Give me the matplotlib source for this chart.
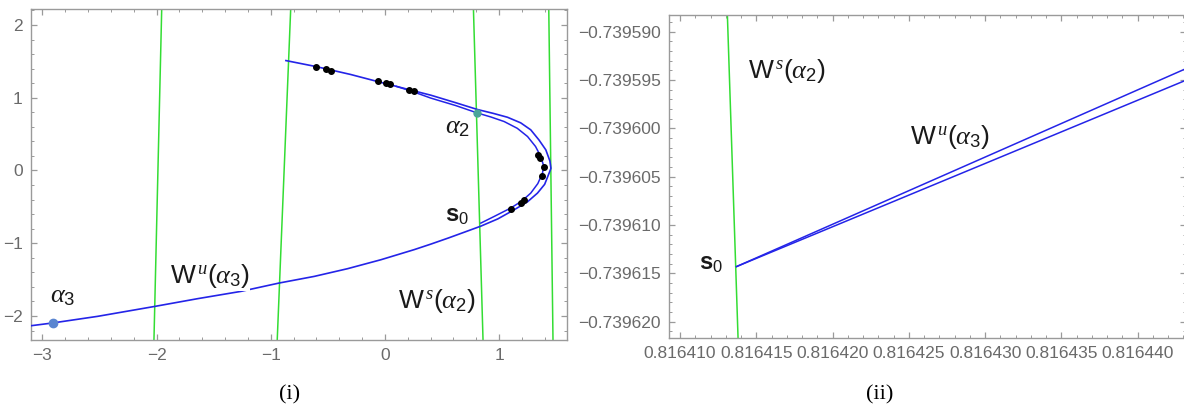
import matplotlib
matplotlib.use("Agg")
import matplotlib.pyplot as plt
import numpy as np
from matplotlib.ticker import MultipleLocator, FuncFormatter

plt.rcParams['font.family'] = ['Liberation Sans', 'DejaVu Sans']
plt.rcParams['mathtext.fontset'] = 'custom'
plt.rcParams['mathtext.rm'] = 'Liberation Sans'
plt.rcParams['mathtext.it'] = 'Liberation Serif:italic'
plt.rcParams['mathtext.bf'] = 'Liberation Sans:bold'

# unstable manifold W^u(alpha3): outer branch, from alpha3 round the fold to the upper end
wu_x = [-3.10, -2.91, -2.516, -2.014, -1.640, -1.261, -0.926, -0.619, -0.327, -0.035,
        0.257, 0.403, 0.560, 0.700, 0.841, 0.990, 1.133, 1.250, 1.337, 1.400, 1.439,
        1.455, 1.446, 1.410, 1.350, 1.278, 1.190, 1.074, 0.950, 0.812, 0.620, 0.403,
        0.243, -0.064, -0.300, -0.604, -0.867]
wu_y = [-2.134, -2.096, -2.005, -1.868, -1.762, -1.662, -1.547, -1.456, -1.350, -1.227,
        -1.088, -1.012, -0.926, -0.846, -0.765, -0.665, -0.540, -0.430, -0.311, -0.190,
        -0.036, 0.030, 0.130, 0.284, 0.420, 0.559, 0.655, 0.732, 0.785, 0.838, 0.932,
        1.035, 1.099, 1.223, 1.320, 1.429, 1.511]

# inner fold starting at s0
wi_x = [0.841, 0.960, 1.103, 1.200, 1.278, 1.340, 1.381, 1.392, 1.366, 1.320, 1.250,
        1.160, 1.045, 0.930, 0.812, 0.620, 0.403, 0.243, 0.100]
wi_y = [-0.723, -0.630, -0.516, -0.420, -0.311, -0.180, -0.036, 0.060, 0.192, 0.330,
        0.467, 0.580, 0.673, 0.735, 0.790, 0.893, 0.995, 1.085, 1.157]

# iterates lying on the manifold
dots_x = [-0.604, -0.517, -0.473, -0.064, 0.009, 0.046, 0.213, 0.251,
          1.342, 1.357, 1.390, 1.381, 1.220, 1.191, 1.103]
dots_y = [1.429, 1.397, 1.374, 1.232, 1.201, 1.187, 1.109, 1.091,
          0.216, 0.170, 0.047, -0.073, -0.402, -0.448, -0.526]

# stable manifold pieces (top and bottom endpoints)
ws_top_x = [-1.955, -0.825, 0.776, 1.436]
ws_bot_x = [-2.023, -0.943, 0.860, 1.473]
ws_y = [2.22, -2.33]

alpha2 = (0.805, 0.795)
alpha3 = (-2.91, -2.096)

# zoomed view near s0
z_green_x = [0.8164131, 0.8164138]
z_green_y = [-0.73958827, -0.73962169]
s0 = (0.8164137, -0.7396143)
z_end_x = 0.8164432
z_end_y = [-0.7395938, -0.7395950]

BLUE = '#2424e8'
GREEN = '#33dd33'
FRAME = '#9a9a9a'
TICKC = '#6a6a6a'

fig = plt.figure(figsize=(11.84, 4.13), dpi=100)
ax1 = fig.add_axes([0.0262, 0.1768, 0.4531, 0.8014])
ax2 = fig.add_axes([0.5654, 0.1816, 0.4366, 0.7821])


def style(ax):
    for sp in ax.spines.values():
        sp.set_color(FRAME)
        sp.set_linewidth(1.0)
    ax.tick_params(which='both', direction='in', top=True, right=True, colors=FRAME,
                   labelcolor=TICKC, labelsize=12.5)
    ax.tick_params(which='major', length=4.0, width=0.9, pad=6)
    ax.tick_params(which='minor', length=2.2, width=0.7)


def minus(s):
    return s.replace('-', '\u2212')


# left panel
for xt, xb in zip(ws_top_x, ws_bot_x):
    ax1.plot([xt, xb], ws_y, color=GREEN, lw=1.1, zorder=2)
ax1.plot(wu_x, wu_y, color=BLUE, lw=1.2, zorder=3, solid_joinstyle='round')
ax1.plot(wi_x, wi_y, color=BLUE, lw=1.1, zorder=3, solid_joinstyle='round')
ax1.plot(dots_x, dots_y, 'o', color='black', ms=4.0, zorder=4)
ax1.plot(*alpha2, 'o', color='#4aa59a', ms=5, zorder=5)
ax1.plot(*alpha3, 'o', color='#5a85d0', ms=6, zorder=5)

ax1.set_xlim(-3.1, 1.6)
ax1.set_ylim(-2.33, 2.22)
ax1.xaxis.set_major_locator(MultipleLocator(1))
ax1.xaxis.set_minor_locator(MultipleLocator(0.2))
ax1.yaxis.set_major_locator(MultipleLocator(1))
ax1.yaxis.set_minor_locator(MultipleLocator(0.2))
ax1.xaxis.set_major_formatter(FuncFormatter(lambda v, p: minus(f'{v:.0f}')))
ax1.yaxis.set_major_formatter(FuncFormatter(lambda v, p: minus(f'{v:.0f}')))
style(ax1)

tk = dict(color='#1a1a1a', fontsize=19, ha='center', va='center', zorder=6)
sk = dict(tk, fontsize=17)
ax1.text(0.64, 0.60, r'$\alpha_2$', **tk)
ax1.text(-2.826, -1.73, r'$\alpha_3$', **tk)
ax1.text(0.632, -0.632, r'$\mathbf{s}_{\mathit{0}}$', **sk)
ax1.text(-1.536, -1.456, r'$\mathrm{W}^{\,\mathit{u}}(\alpha_3)$',
         bbox=dict(facecolor='white', edgecolor='none', pad=0.5), **tk)
ax1.text(0.458, -1.80, r'$\mathrm{W}^{\,\mathit{s}}(\alpha_2)$', **tk)

# right panel
ax2.plot(z_green_x, z_green_y, color=GREEN, lw=1.1, zorder=2)
for ye in z_end_y:
    ax2.plot([s0[0], z_end_x], [s0[1], ye], color=BLUE, lw=1.1, zorder=3)

ax2.set_xlim(0.8164093, 0.8164432)
ax2.set_ylim(-0.73962169, -0.73958827)
ax2.set_xticks(np.round(np.arange(0.816410, 0.8164401, 0.000005), 6))
ax2.set_yticks(np.round(np.arange(-0.739620, -0.7395899, 0.000005), 6))
ax2.xaxis.set_minor_locator(MultipleLocator(0.000001))
ax2.yaxis.set_minor_locator(MultipleLocator(0.000001))
ax2.xaxis.set_major_formatter(FuncFormatter(lambda v, p: f'{v:.6f}'))
ax2.yaxis.set_major_formatter(FuncFormatter(lambda v, p: minus(f'{v:.6f}')))
style(ax2)

ax2.text(0.8164170, -0.7395941, r'$\mathrm{W}^{\,\mathit{s}}(\alpha_2)$', **tk)
ax2.text(0.8164277, -0.7396009, r'$\mathrm{W}^{\,\mathit{u}}(\alpha_3)$', **tk)
ax2.text(0.8164120, -0.7396140, r'$\mathbf{s}_{\mathit{0}}$', **sk)

fig.text(0.2449, 0.045, '(i)', fontsize=16, family='Liberation Serif', ha='center', va='center')
fig.text(0.7432, 0.045, '(ii)', fontsize=16, family='Liberation Serif', ha='center', va='center')

fig.savefig('out.png', dpi=100)
